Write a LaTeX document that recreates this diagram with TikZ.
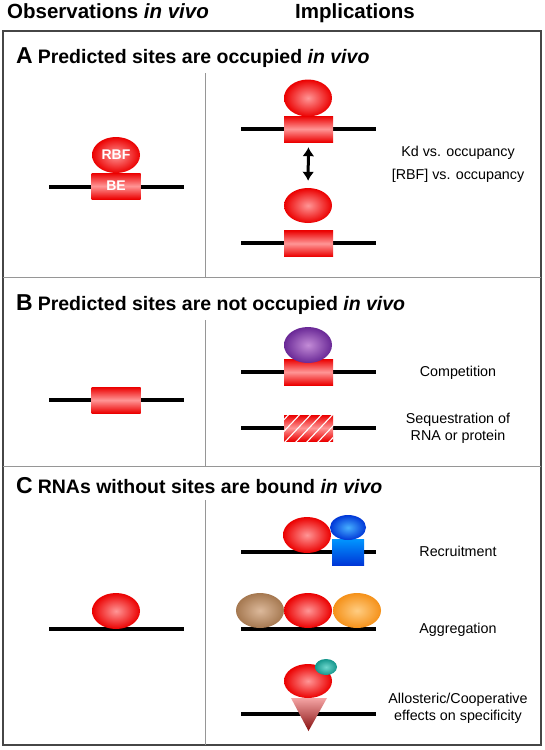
\documentclass[tikz,border=0pt]{standalone}
\usepackage{fontspec}
\setmainfont{Liberation Sans}
\usetikzlibrary{shapes.geometric,arrows.meta,calc}
\definecolor{rDark}{RGB}{235,0,0}
\definecolor{rLight}{RGB}{255,150,150}
\definecolor{pDark}{RGB}{105,40,150}
\definecolor{pLight}{RGB}{195,140,215}
\definecolor{bDark}{RGB}{0,55,215}
\definecolor{bLight}{RGB}{70,175,255}
\definecolor{bTop}{RGB}{0,150,255}
\definecolor{brDark}{RGB}{165,120,80}
\definecolor{brLight}{RGB}{220,185,155}
\definecolor{oDark}{RGB}{245,145,25}
\definecolor{oLight}{RGB}{255,205,130}
\definecolor{tDark}{RGB}{20,150,140}
\definecolor{tLight}{RGB}{110,215,205}
\definecolor{triTop}{RGB}{245,165,165}
\definecolor{triBot}{RGB}{135,15,15}
\definecolor{frameC}{RGB}{70,70,70}
\definecolor{divC}{RGB}{150,150,150}
\begin{document}
\begin{tikzpicture}[x=1pt,y=-1pt,
  rna/.style={line width=4pt,black},
  prot/.style={ellipse,inner sep=0pt,minimum width=48pt,minimum height=36pt},
  redprot/.style={prot,inner color=rLight,outer color=rDark},
  site/.style={rectangle,inner sep=0pt,minimum width=49pt,minimum height=26pt,
    top color=rDark,bottom color=rDark,middle color=rLight},
  lbl/.style={font=\fontsize{14.3}{17}\selectfont,align=center,inner sep=0pt},
  head/.style={font=\bfseries\fontsize{20.5}{24}\selectfont,inner sep=0pt},
  sect/.style={font=\bfseries\fontsize{19.5}{23}\selectfont,inner sep=0pt,anchor=base west},
  wtxt/.style={text=white,font=\bfseries\fontsize{14}{17}\selectfont}]
\useasboundingbox (0,0) rectangle (544,750);
\fill[white] (0,0) rectangle (544,750);
% headers
\node[head,anchor=base west] (hobs) at (7,18) {Observations \textit{in vivo}};
\node[head,anchor=base] (himp) at (355,18) {Implications};
% frame and dividers
\draw[frameC,line width=1.4pt] (3,31) rectangle (541,745);
\draw[divC,line width=1pt] (3,277) -- (541,277);
\draw[divC,line width=1pt] (3,466) -- (541,466);
\draw[divC,line width=1pt] (205,73) -- (205,277);
\draw[divC,line width=1pt] (205,320) -- (205,466);
\draw[divC,line width=1pt] (205,500) -- (205,745);
% section titles
\node[sect] (tA) at (16,63) {{\fontsize{23}{26}\selectfont A}\hspace{5pt}Predicted sites are occupied \textit{in vivo}};
\node[sect] (tB) at (16,310) {{\fontsize{23}{26}\selectfont B}\hspace{5pt}Predicted sites are not occupied \textit{in vivo}};
\node[sect] (tC) at (16,493) {{\fontsize{23}{26}\selectfont C}\hspace{5pt}RNAs without sites are bound \textit{in vivo}};
% ---- A left
\draw[rna] (49,187) -- (184,187);
\node[site,wtxt] (aBE) at (116,186) {BE};
\node[redprot,wtxt] (aRBF) at (116,155) {RBF};
% ---- A right
\draw[rna] (241,129) -- (376,129);
\node[site] (aS1) at (308.5,129) {};
\node[redprot,minimum height=37pt] (aP1) at (308,98) {};
\draw[rna] (241,243) -- (376,243);
\node[site] (aS2) at (308.5,243.5) {};
\node[redprot,minimum height=35pt] (aP2) at (308,205.5) {};
\draw[line width=3pt,{Latex[length=9pt,width=12pt]}-{Latex[length=9pt,width=12pt]},shorten <=5pt,shorten >=7pt] (aS1.south) -- (aP2.north);
\node[lbl] (lKd) at (458,153) {Kd vs. occupancy};
\node[lbl] (lRBF) at (458,176) {[RBF] vs. occupancy};
% ---- B left
\draw[rna] (49,400) -- (184,400);
\node[site] (bS0) at (116,400) {};
% ---- B right
\draw[rna] (241,372) -- (376,372);
\node[site] (bS1) at (308.5,372) {};
\node[prot,inner color=pLight,outer color=pDark] (bP1) at (308,345) {};
\draw[rna] (241,428) -- (376,428);
\node[site,path picture={
   \foreach \k in {-33,-22,...,55}
     \draw[white,line width=1.1pt] ($(path picture bounding box.south west)+(\k,2)$) -- ++(32,-34);
 }] (bS2) at (308.5,428) {};
\node[lbl] (lComp) at (458,373) {Competition};
\node[lbl] (lSeq) at (458,428.5) {Sequestration of\\RNA or protein};
% ---- C left
\draw[rna] (49,629) -- (184,629);
\node[redprot] (cP0) at (116,611) {};
% ---- C right: recruitment
\draw[rna] (241,552) -- (376,552);
\node[redprot] (cR1) at (307,535) {};
\node[rectangle,inner sep=0pt,minimum width=32pt,minimum height=26pt,top color=bTop,bottom color=bDark] (cB1) at (348,552) {};
\node[prot,minimum width=36pt,minimum height=25pt,inner color=bLight,outer color=bDark] (cB2) at (348,527.5) {};
\node[lbl] (lRec) at (458,551) {Recruitment};
% ---- aggregation
\draw[rna] (241,629) -- (376,629);
\node[prot,minimum height=35pt,inner color=brLight,outer color=brDark] (cG1) at (260,610.5) {};
\node[prot,minimum height=35pt,inner color=oLight,outer color=oDark] (cG3) at (357,610.5) {};
\node[redprot,minimum height=35pt] (cG2) at (308,610.5) {};
\node[lbl] (lAgg) at (458,630) {Aggregation};
% ---- allosteric
\draw[rna] (241,714) -- (376,714);
\shade[top color=triTop,bottom color=triBot] (291,698) -- (327,698) -- (308.5,731) -- cycle;
\node[redprot,minimum height=34pt] (cA1) at (308,681) {};
\node[prot,minimum width=22pt,minimum height=16pt,inner color=tLight,outer color=tDark] (cA2) at (326,667) {};
\node[lbl] (lAll) at (458,708.5) {Allosteric/Cooperative\\effects on specificity};
\end{tikzpicture}
\end{document}
